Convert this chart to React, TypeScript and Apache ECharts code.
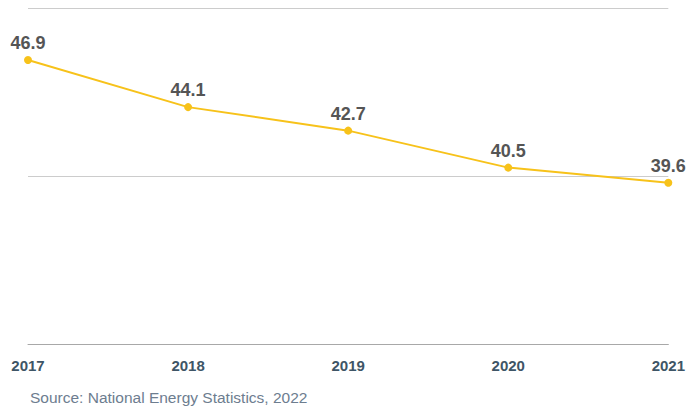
import React, { useEffect, useRef } from "react";
import * as echarts from "echarts";

const years = ["2017", "2018", "2019", "2020", "2021"];
const values = [46.9, 44.1, 42.7, 40.5, 39.6];
const sourceText = "Source: National Energy Statistics, 2022";

export default function App() {
  const ref = useRef<HTMLDivElement>(null);
  useEffect(() => {
    const chart = echarts.init(ref.current!, null, { renderer: "svg" });
    chart.setOption({
      animation: false,
      grid: { left: 28, right: 17, top: 8, bottom: 66 },
      xAxis: {
        type: "category",
        data: years,
        boundaryGap: false,
        axisLine: { show: true, lineStyle: { color: "#a8a8a8", width: 1 } },
        axisTick: { show: false },
        axisLabel: {
          color: "#3e5566",
          fontFamily: "Liberation Sans, Arial, sans-serif",
          fontWeight: "bold",
          fontSize: 15,
          margin: 14,
        },
      },
      yAxis: {
        type: "value",
        min: 30,
        max: 50,
        interval: 10,
        axisLabel: { show: false },
        axisLine: { show: false },
        axisTick: { show: false },
        splitLine: { lineStyle: { color: "#cccccc", width: 1 } },
      },
      series: [
        {
          type: "line",
          data: values,
          symbol: "circle",
          symbolSize: 8,
          itemStyle: { color: "#f7c21a" },
          lineStyle: { color: "#f7c21a", width: 2 },
          label: {
            show: true,
            position: "top",
            distance: 4,
            color: "#555555",
            fontFamily: "Liberation Sans, Arial, sans-serif",
            fontWeight: "bold",
            fontSize: 18,
            formatter: (p: any) => p.value.toFixed(1),
          },
        },
      ],
      graphic: [
        {
          type: "text",
          left: 30,
          top: 389,
          style: {
            text: sourceText,
            fill: "#6d7d8f",
            fontFamily: "Liberation Sans, Arial, sans-serif",
            fontSize: 15.5,
          },
        },
      ],
    });
    return () => chart.dispose();
  }, []);
  return <div ref={ref} style={{ width: 688, height: 410, position: "absolute", left: 0, top: 0 }} />;
}
